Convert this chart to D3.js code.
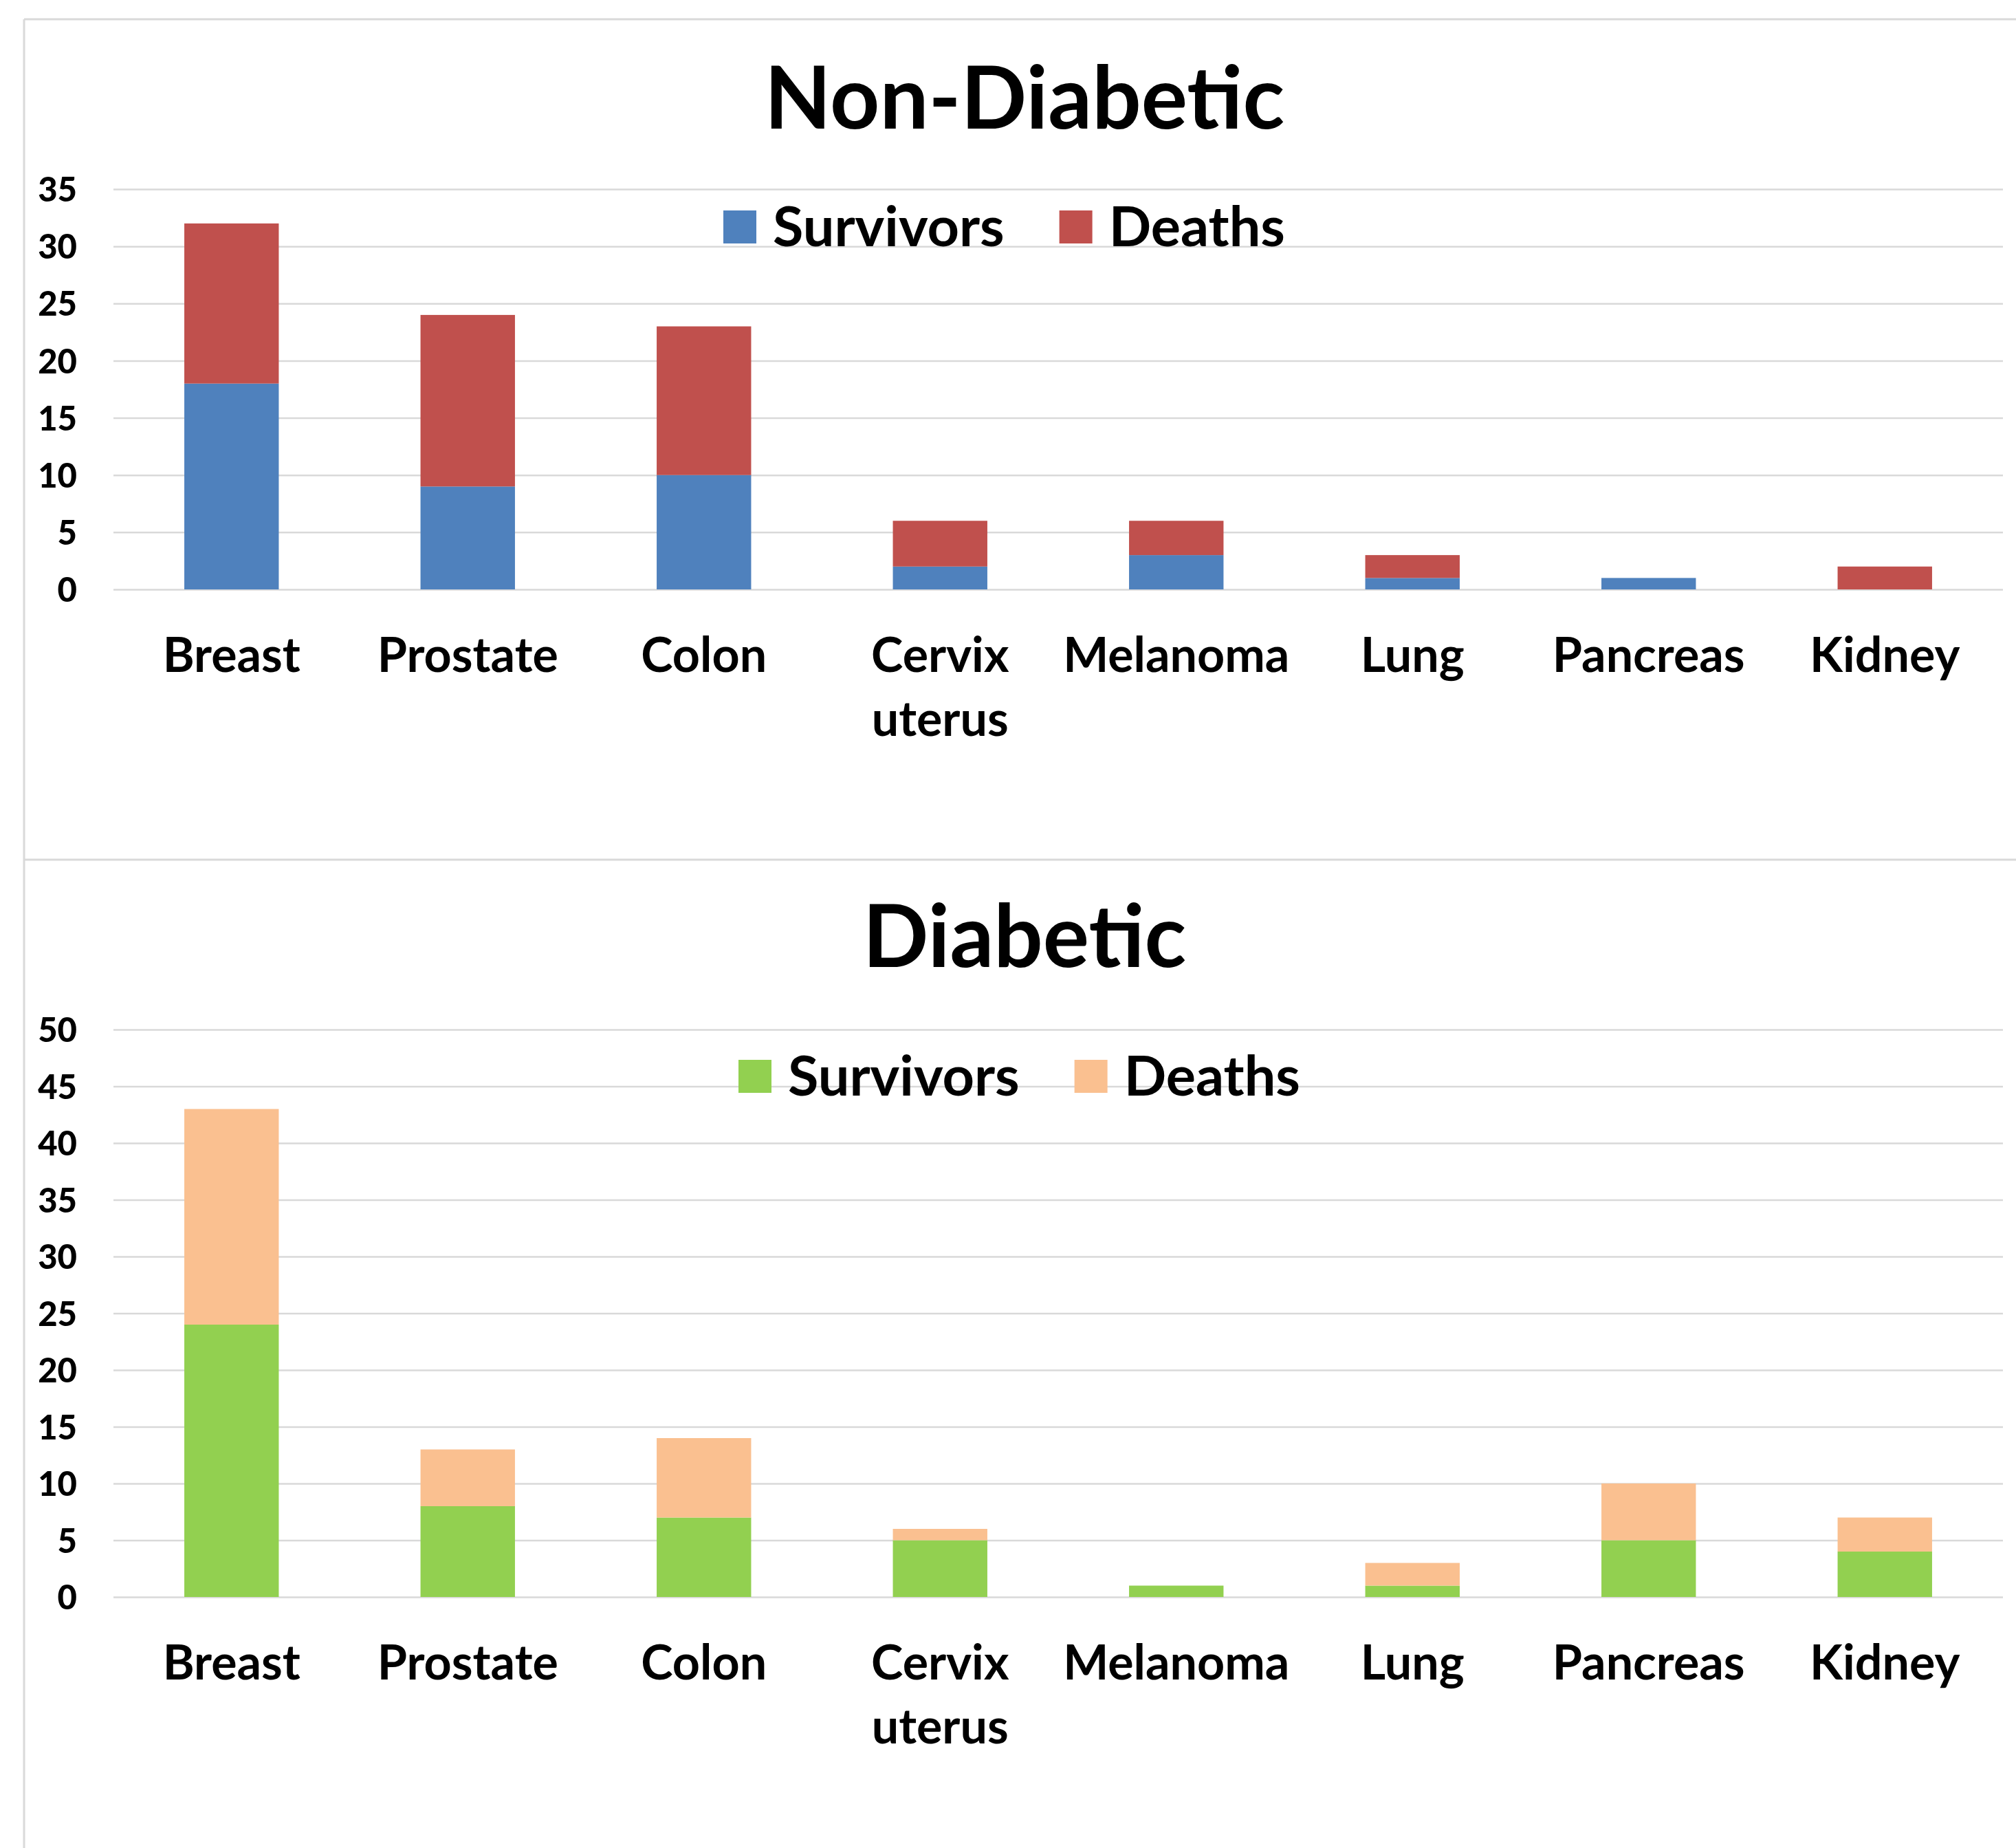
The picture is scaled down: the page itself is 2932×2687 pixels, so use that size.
<!DOCTYPE html>
<html>
<head>
<meta charset="utf-8">
<script src="https://cdn.jsdelivr.net/npm/d3@7"></script>
<style>
  html, body { margin: 0; padding: 0; background: #fff; }
  svg { display: block; font-family: Lato, "Open Sans", sans-serif; font-weight: 700; }
</style>
</head>
<body>
<div id="chart"></div>
<script>
const categories = ["Breast", "Prostate", "Colon", "Cervix uterus", "Melanoma", "Lung", "Pancreas", "Kidney"];
const seriesNames = ["Survivors", "Deaths"];

const nonDiabeticSurvivors = [18, 9, 10, 2, 3, 1, 1, 0];
const nonDiabeticDeaths = [14, 15, 13, 4, 3, 2, 0, 2];
const diabeticSurvivors = [24, 8, 7, 5, 1, 1, 5, 4];
const diabeticDeaths = [19, 5, 7, 1, 0, 2, 5, 3];

const nonDiabeticTicks = [0, 5, 10, 15, 20, 25, 30, 35];
const diabeticTicks = [0, 5, 10, 15, 20, 25, 30, 35, 40, 45, 50];

const W = 2932, H = 2687;
const svg = d3.select("#chart").append("svg").attr("width", W).attr("height", H);

// outer frame + separator between the two panels
const frame = "#d9d9d9";
svg.append("line").attr("x1", 35).attr("x2", 35).attr("y1", 28).attr("y2", H).attr("stroke", frame).attr("stroke-width", 3);
svg.append("line").attr("x1", 35).attr("x2", W).attr("y1", 28).attr("y2", 28).attr("stroke", frame).attr("stroke-width", 3);
svg.append("line").attr("x1", 35).attr("x2", W).attr("y1", 1250).attr("y2", 1250).attr("stroke", frame).attr("stroke-width", 3);

function drawPanel(opt) {
  const g = svg.append("g");
  const x = d3.scaleBand().domain(categories).range([165, 2913]).paddingInner(0.6).paddingOuter(0.3);
  const y = d3.scaleLinear().domain([0, d3.max(opt.ticks)]).range([opt.y0, opt.y1]);

  g.append("text").attr("x", 1490).attr("y", opt.titleY).attr("text-anchor", "middle")
    .attr("font-size", 126).attr("fill", "#000").text(opt.title);

  // gridlines + tick labels
  const yAxis = d3.axisLeft(y).tickValues(opt.ticks).tickSize(-(2913 - 165)).tickPadding(53);
  const ax = g.append("g").attr("transform", "translate(165,0)").call(yAxis);
  ax.select(".domain").remove();
  ax.selectAll(".tick line").attr("stroke", "#d9d9d9").attr("stroke-width", 2.5);
  ax.selectAll(".tick text").attr("font-size", 49).attr("font-family", "Lato, sans-serif")
    .attr("font-weight", 900).attr("fill", "#000").attr("dy", "0.36em");

  const rows = categories.map((c, i) => ({ cat: c, Survivors: opt.surv[i], Deaths: opt.deaths[i] }));
  const stack = d3.stack().keys(seriesNames)(rows);
  const colors = d3.scaleOrdinal().domain(seriesNames).range(opt.colors);

  g.selectAll("g.series").data(stack).join("g").attr("class", "series")
    .attr("fill", d => colors(d.key))
    .selectAll("rect").data(d => d.filter(p => p[1] > p[0])).join("rect")
    .attr("x", d => x(d.data.cat))
    .attr("width", x.bandwidth())
    .attr("y", d => y(d[1]))
    .attr("height", d => y(d[0]) - y(d[1]));

  // category labels (wrap "Cervix uterus")
  const xl = g.append("g");
  categories.forEach(c => {
    const t = xl.append("text").attr("x", x(c) + x.bandwidth() / 2).attr("y", opt.y0 + 120)
      .attr("text-anchor", "middle").attr("font-size", 70).attr("fill", "#000");
    c.split(" ").forEach((w, i) => {
      t.append("tspan").attr("x", x(c) + x.bandwidth() / 2).attr("dy", i ? 93 : 0).text(w);
    });
  });

  // legend
  const lg = g.append("g");
  let lx = opt.legendX;
  seriesNames.forEach(name => {
    lg.append("rect").attr("x", lx).attr("y", opt.legendY - 24).attr("width", 48).attr("height", 48).attr("fill", colors(name));
    const t = lg.append("text").attr("x", lx + 72).attr("y", opt.legendY + 28).attr("font-size", 81).attr("fill", "#000").text(name);
    lx += 72 + t.node().getComputedTextLength() + 80;
  });
}

drawPanel({
  title: "Non-Diabetic", titleY: 187,
  ticks: nonDiabeticTicks, y0: 857, y1: 275,
  surv: nonDiabeticSurvivors, deaths: nonDiabeticDeaths,
  colors: ["#4F81BD", "#C0504D"],
  legendX: 1052, legendY: 330
});

drawPanel({
  title: "Diabetic", titleY: 1406,
  ticks: diabeticTicks, y0: 2322, y1: 1497,
  surv: diabeticSurvivors, deaths: diabeticDeaths,
  colors: ["#92D050", "#FAC090"],
  legendX: 1074, legendY: 1565
});
</script>
</body>
</html>
